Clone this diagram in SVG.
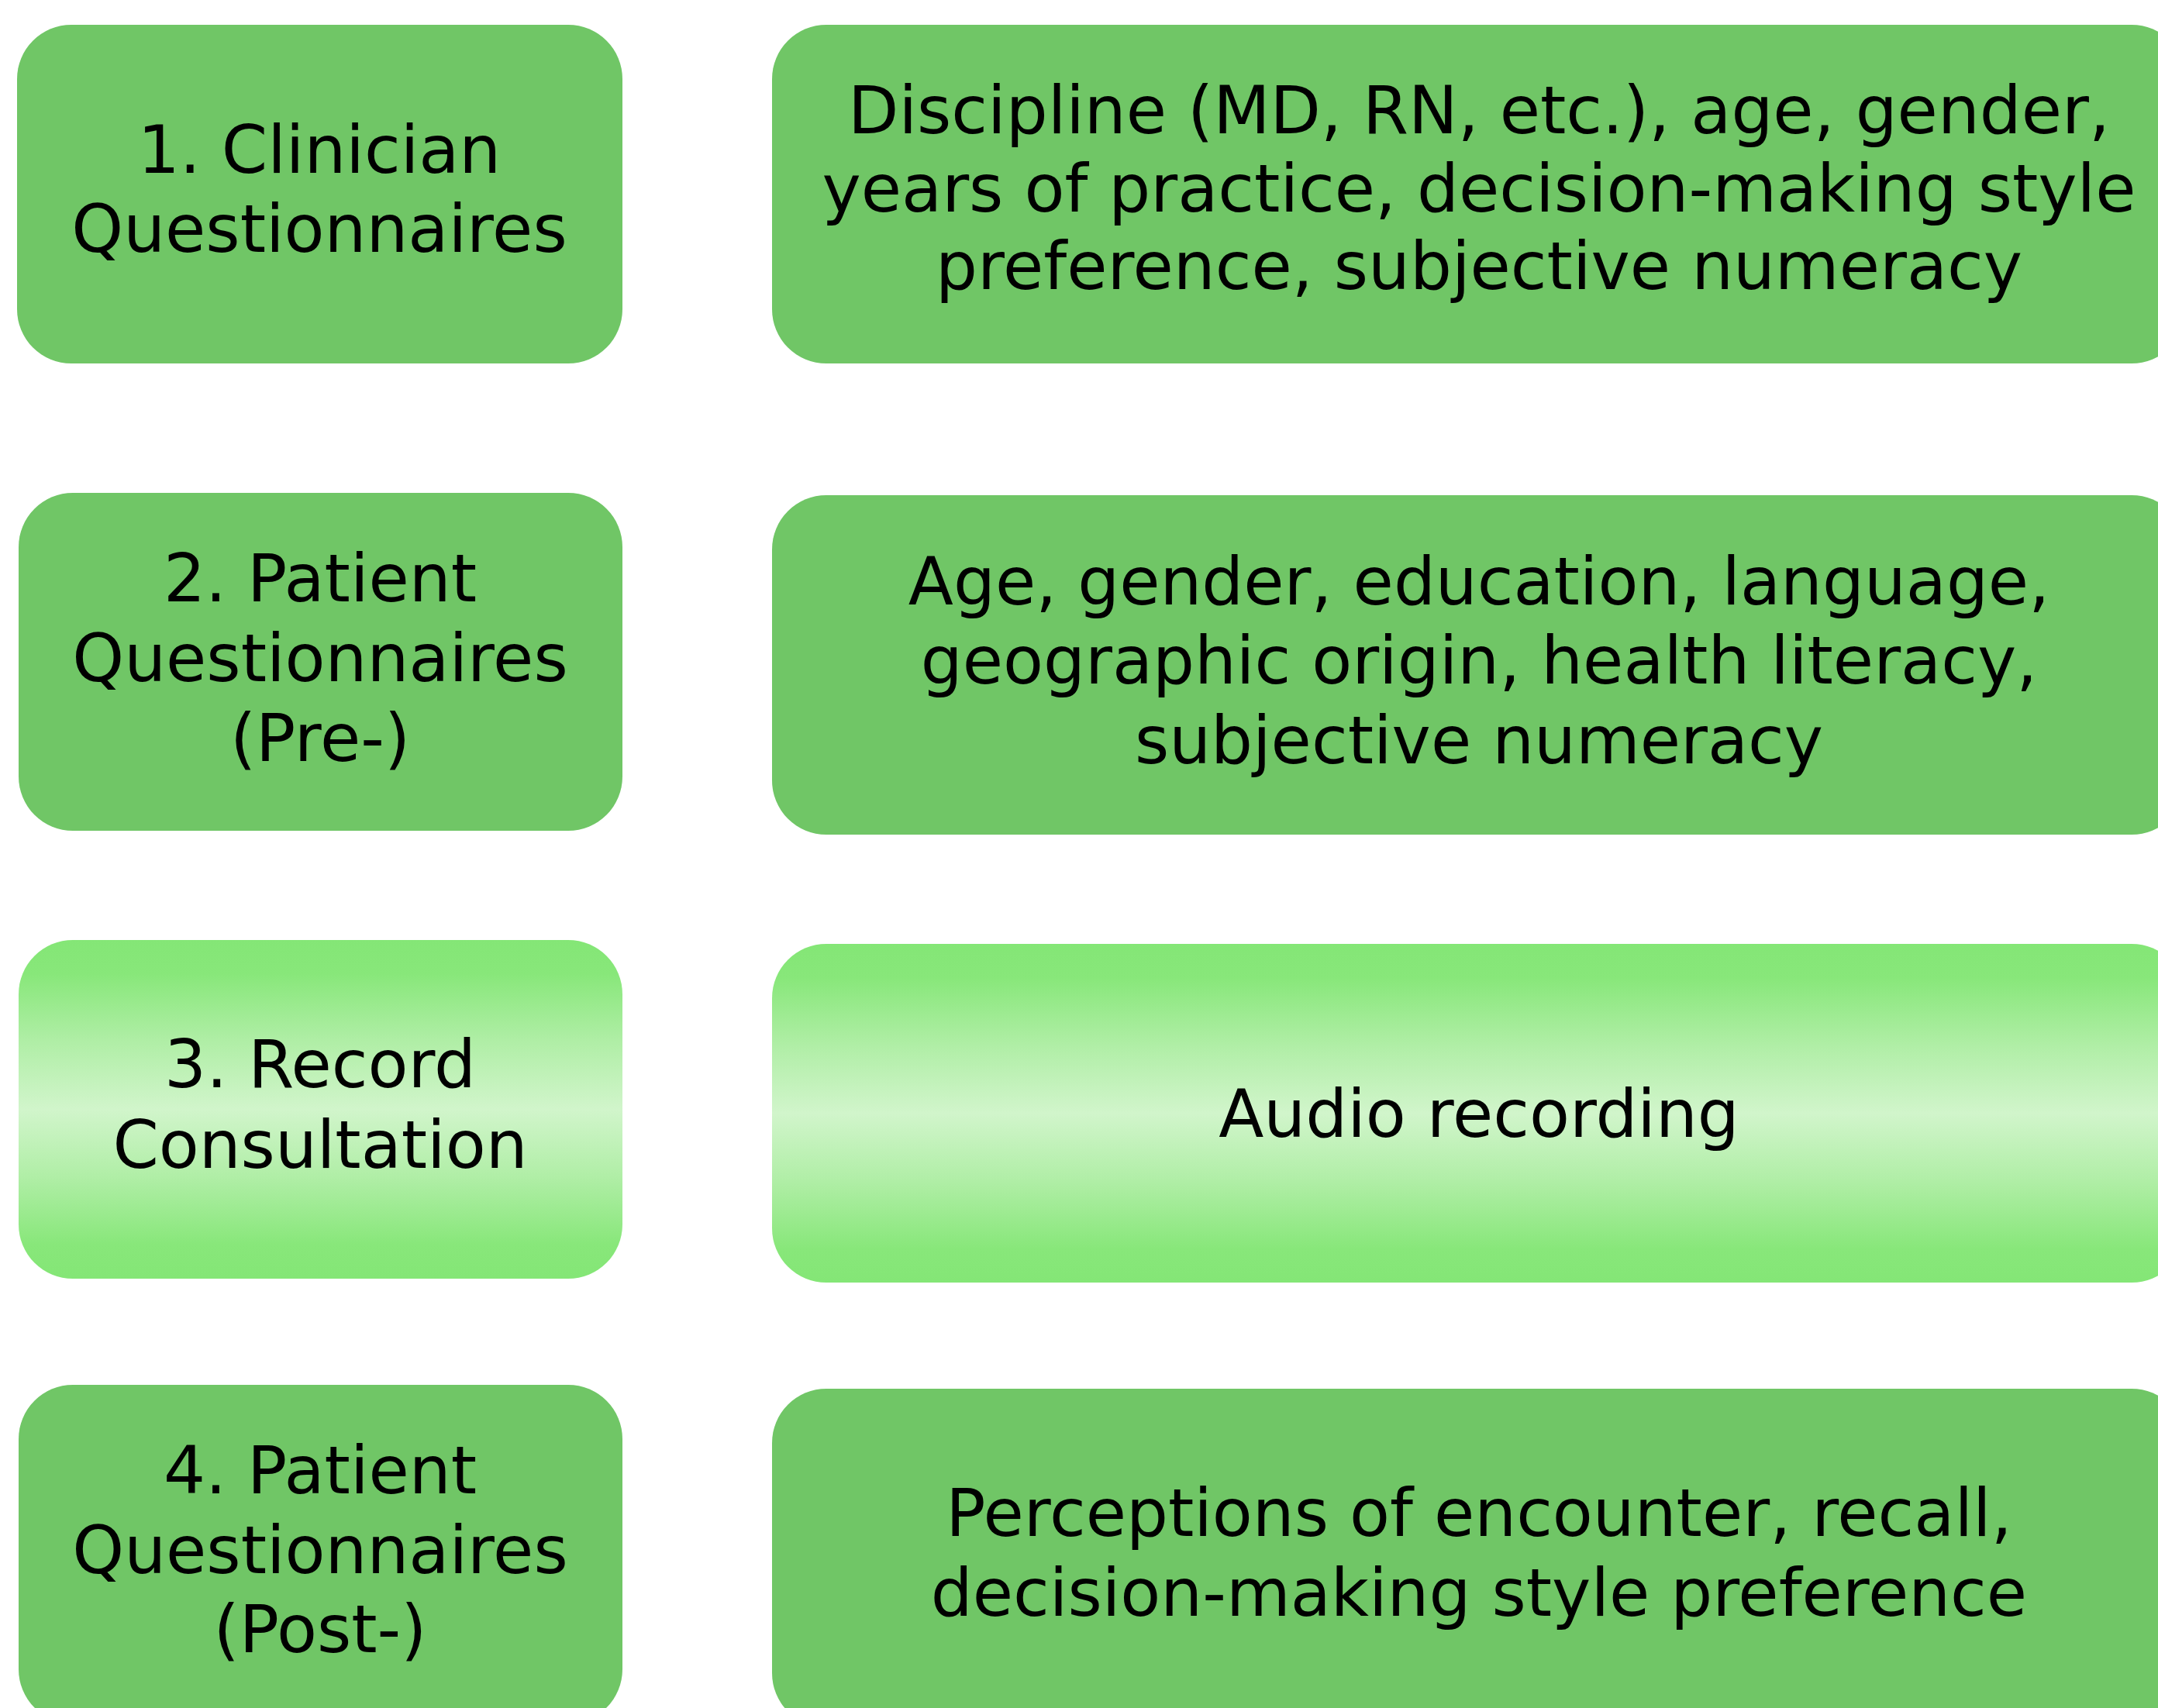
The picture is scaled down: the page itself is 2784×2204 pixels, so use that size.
<svg xmlns="http://www.w3.org/2000/svg" width="2784" height="2204" viewBox="0 0 2784 2204">
  <style>
    .box { fill: #70c666; }
    .box-light { fill: url(#lightGreen); }
    text { font-family: "DejaVu Sans", Verdana, sans-serif; font-size: 85px; fill: #000000; text-anchor: middle; }
  </style>
  <defs>
    <linearGradient id="lightGreen" x1="0" y1="0" x2="0" y2="1">
      <stop offset="0" stop-color="#84e676"/>
      <stop offset="0.1" stop-color="#88e77a"/>
      <stop offset="0.3" stop-color="#b0eea6"/>
      <stop offset="0.5" stop-color="#d1f5cb"/>
      <stop offset="0.7" stop-color="#b0eea6"/>
      <stop offset="0.9" stop-color="#88e77a"/>
      <stop offset="1" stop-color="#84e676"/>
    </linearGradient>
  </defs>
  <rect width="2784" height="2204" fill="#ffffff"/>

  <!-- step labels (left column) -->
  <g id="step1">
    <rect class="box" x="22" y="32" width="781" height="437" rx="70" ry="70"/>
    <text x="412" y="223">1. Clinician</text>
    <text x="412" y="325">Questionnaires</text>
  </g>
  <g id="step2">
    <rect class="box" x="24" y="636" width="779" height="436" rx="70" ry="70"/>
    <text x="413" y="776">2. Patient</text>
    <text x="413" y="879">Questionnaires</text>
    <text x="413" y="982">(Pre-)</text>
  </g>
  <g id="step3">
    <rect class="box-light" x="24" y="1213" width="779" height="437" rx="70" ry="70"/>
    <text x="413" y="1403">3. Record</text>
    <text x="413" y="1507">Consultation</text>
  </g>
  <g id="step4">
    <rect class="box" x="24" y="1787" width="779" height="437" rx="70" ry="70"/>
    <text x="413" y="1927">4. Patient</text>
    <text x="413" y="2030">Questionnaires</text>
    <text x="413" y="2132">(Post-)</text>
  </g>

  <!-- measures collected (right column) -->
  <g id="detail1">
    <rect class="box" x="996" y="32" width="1824" height="437" rx="70" ry="70"/>
    <text x="1908" y="172">Discipline (MD, RN, etc.), age, gender,</text>
    <text x="1908" y="273">years of practice, decision-making style</text>
    <text x="1908" y="373">preference, subjective numeracy</text>
  </g>
  <g id="detail2">
    <rect class="box" x="996" y="639" width="1824" height="438" rx="70" ry="70"/>
    <text x="1908" y="780">Age, gender, education, language,</text>
    <text x="1908" y="882">geographic origin, health literacy,</text>
    <text x="1908" y="985">subjective numeracy</text>
  </g>
  <g id="detail3">
    <rect class="box-light" x="996" y="1218" width="1824" height="437" rx="70" ry="70"/>
    <text x="1908" y="1467">Audio recording</text>
  </g>
  <g id="detail4">
    <rect class="box" x="996" y="1792" width="1824" height="437" rx="70" ry="70"/>
    <text x="1908" y="1982">Perceptions of encounter, recall,</text>
    <text x="1908" y="2085">decision-making style preference</text>
  </g>

  <g id="connectors"></g>
</svg>
